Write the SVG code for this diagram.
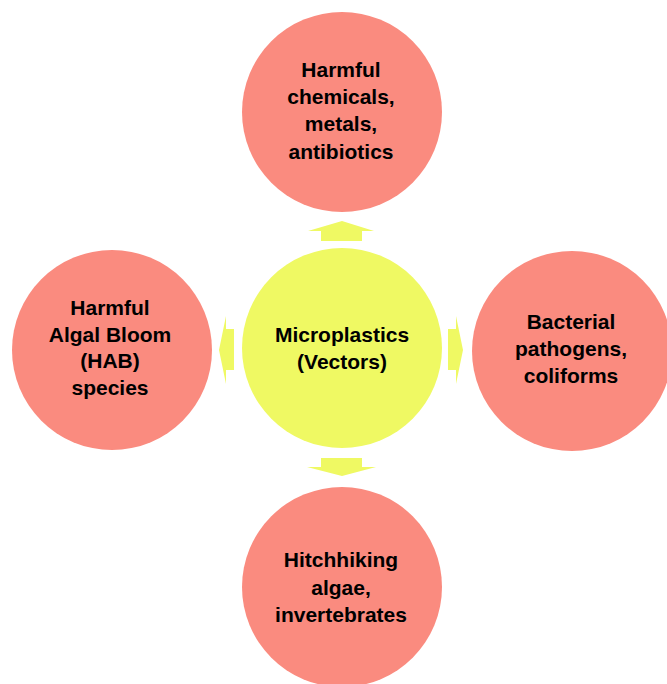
<svg xmlns="http://www.w3.org/2000/svg" width="667" height="684" viewBox="0 0 667 684">
<style>
.outer{fill:#FA8B7F}
.center{fill:#EFF963}
.arrow{fill:#EFF963}
text{font-family:"Liberation Sans",Arial,sans-serif;font-weight:bold;font-size:21px;fill:#000;text-anchor:middle}
</style>
<rect width="667" height="684" fill="#fff"/>
<g id="connectors">
<polygon class="arrow" points="342,221 374,231 362,231 362,241 321,241 321,231 308,231"/>
<polygon class="arrow" points="321,458 362,458 362,467 376,467 342,476 307,467 321,467"/>
<polygon class="arrow" points="219,350 226,316 226,329 234,329 234,370 226,370 226,384"/>
<polygon class="arrow" points="463,350 456,316 456,329 448,329 448,370 456,370 456,384"/>
</g>
<g id="node-top">
<circle class="outer" cx="342" cy="112" r="100"/>
<text x="341" y="77">Harmful</text>
<text x="341" y="104">chemicals,</text>
<text x="341" y="131">metals,</text>
<text x="341" y="159">antibiotics</text>
</g>
<g id="node-center">
<circle class="center" cx="342" cy="348" r="100"/>
<text x="342" y="342">Microplastics</text>
<text x="342" y="369">(Vectors)</text>
</g>
<g id="node-left">
<circle class="outer" cx="112" cy="350" r="100"/>
<text x="110" y="315">Harmful</text>
<text x="110" y="342">Algal Bloom</text>
<text x="110" y="368">(HAB)</text>
<text x="110" y="395">species</text>
</g>
<g id="node-right">
<circle class="outer" cx="572" cy="351" r="100"/>
<text x="571" y="329">Bacterial</text>
<text x="571" y="356">pathogens,</text>
<text x="571" y="383">coliforms</text>
</g>
<g id="node-bottom">
<circle class="outer" cx="342" cy="587" r="100"/>
<text x="341" y="567">Hitchhiking</text>
<text x="341" y="595">algae,</text>
<text x="341" y="622">invertebrates</text>
</g>
</svg>
